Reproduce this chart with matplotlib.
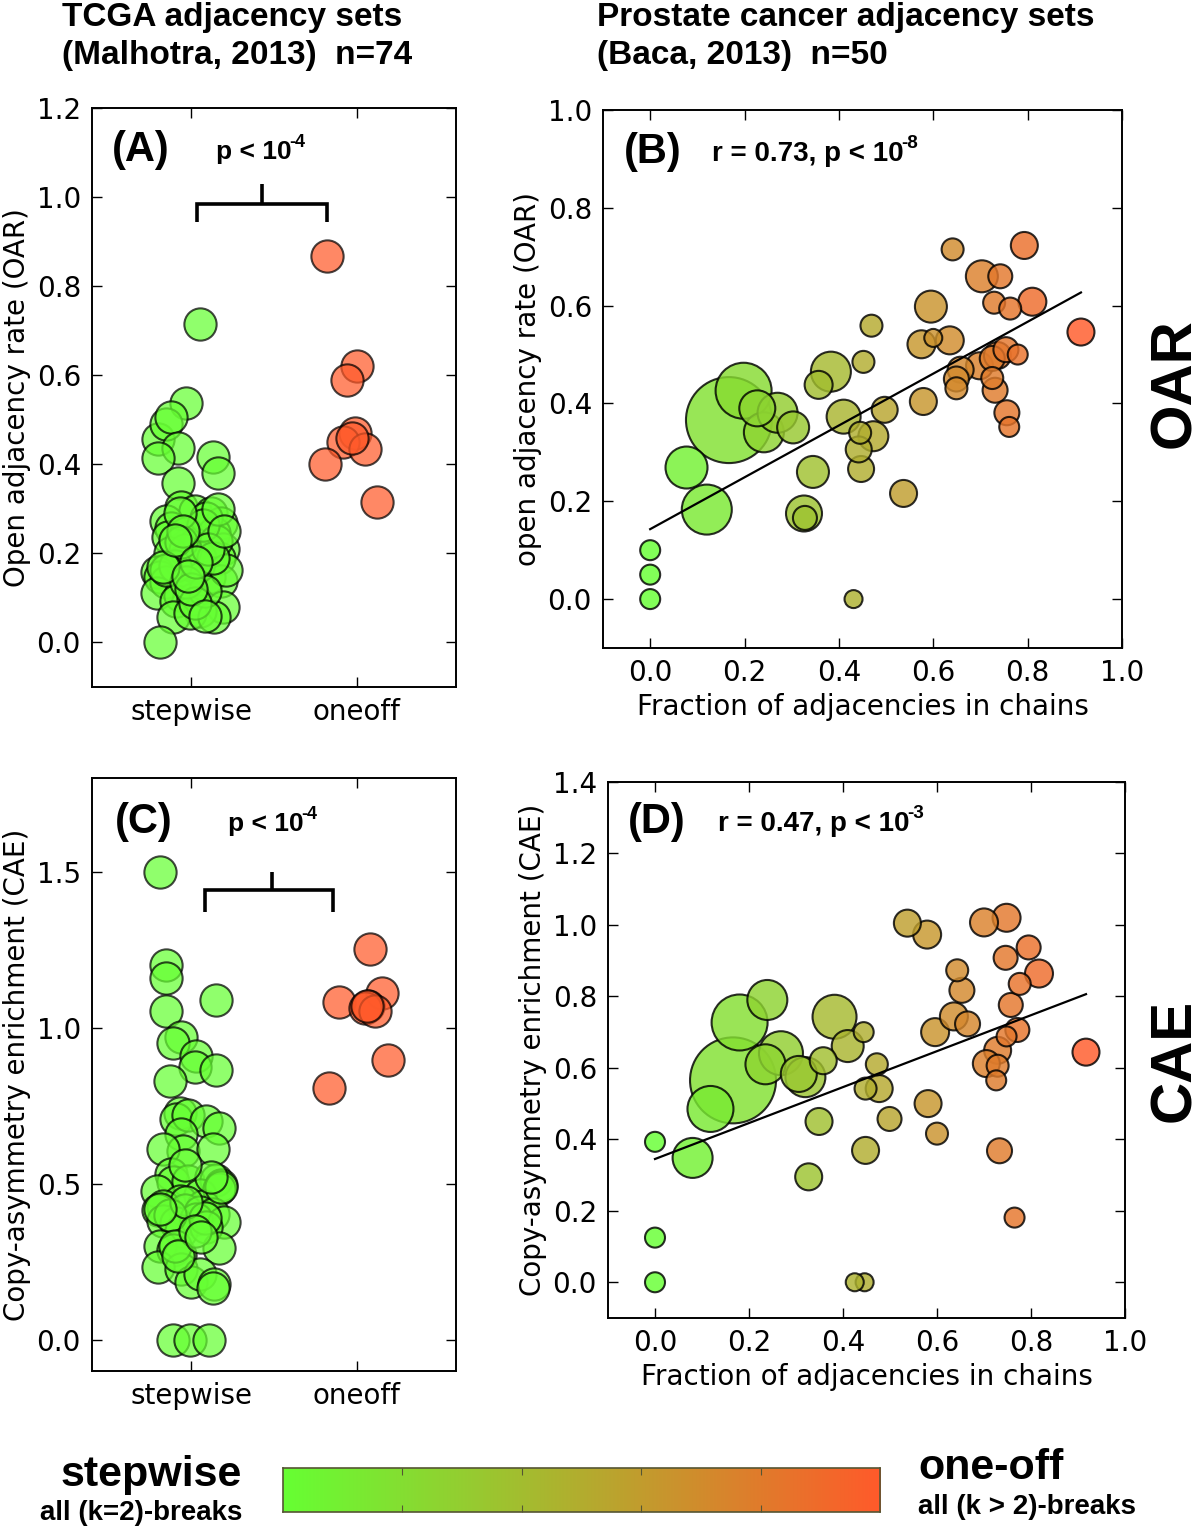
import numpy as np
import matplotlib
matplotlib.use("Agg")
import matplotlib.pyplot as plt
from matplotlib.colors import LinearSegmentedColormap

plt.rcParams['font.family'] = 'DejaVu Sans'

# panel A: open adjacency rate, TCGA (jittered x around group position)
a_step_x = [0.05, -0.03, -0.20, -0.15, -0.12, -0.08, -0.20, 0.13, 0.16, -0.08,
            -0.06, 0.02, 0.12, 0.18, -0.15, -0.12, -0.14, -0.03, 0.14, 0.02,
            -0.13, 0.19, 0.17, 0.05, -0.06, -0.21, -0.19, -0.15, 0.11, 0.18,
            -0.01, -0.21, -0.07, -0.09, 0.01, 0.19, 0.05, -0.11, -0.01, 0.14,
            -0.19, 0.09, 0.15, 0.04, -0.04, -0.10, 0.21, 0.08, -0.15, -0.03,
            0.07, -0.07, 0.02, 0.13, -0.06, 0.10, -0.17, 0.00, 0.16, -0.05,
            0.08, 0.20, -0.10, 0.03, -0.02]
a_step_y = [0.714, 0.538, 0.457, 0.490, 0.506, 0.437, 0.414, 0.417, 0.380, 0.357,
            0.304, 0.295, 0.290, 0.268, 0.272, 0.258, 0.237, 0.245, 0.245, 0.222,
            0.200, 0.210, 0.190, 0.190, 0.180, 0.158, 0.148, 0.135, 0.148, 0.139,
            0.144, 0.112, 0.107, 0.094, 0.098, 0.080, 0.070, 0.057, 0.066, 0.057,
            0.000, 0.280, 0.227, 0.171, 0.208, 0.171, 0.162, 0.116, 0.162, 0.135,
            0.263, 0.290, 0.089, 0.190, 0.226, 0.210, 0.170, 0.120, 0.300, 0.250,
            0.060, 0.250, 0.230, 0.180, 0.150]
a_one_x = [0.82, 1.00, 0.94, 0.99, 0.92, 1.05, 0.81, 1.12, 0.97]
a_one_y = [0.868, 0.620, 0.590, 0.470, 0.450, 0.435, 0.400, 0.315, 0.460]

# panel C: copy-asymmetry enrichment, TCGA
c_step_x = [-0.19, -0.15, -0.15, -0.15, 0.15, -0.06, -0.11, 0.03, 0.02, 0.15,
            -0.13, -0.07, -0.09, -0.02, 0.09, 0.17, -0.06, -0.05, -0.17, 0.13,
            -0.12, -0.11, -0.02, 0.15, 0.18, -0.21, 0.05, 0.17, -0.07, -0.17,
            0.07, -0.20, -0.04, 0.05, 0.13, -0.17, -0.09, 0.03, 0.20, -0.06,
            0.09, -0.19, -0.11, -0.07, 0.17, -0.20, -0.06, 0.00, 0.05, 0.14,
            0.13, -0.11, -0.01, 0.11, -0.13, 0.08, -0.03, 0.18, -0.10, 0.02,
            -0.19, 0.12, -0.08, 0.06, -0.04]
c_step_y = [1.500, 1.200, 1.160, 1.055, 1.090, 0.970, 0.950, 0.910, 0.875, 0.866,
            0.830, 0.726, 0.709, 0.720, 0.700, 0.680, 0.659, 0.605, 0.611, 0.611,
            0.530, 0.506, 0.510, 0.513, 0.496, 0.476, 0.463, 0.483, 0.445, 0.429,
            0.429, 0.415, 0.415, 0.408, 0.402, 0.381, 0.375, 0.388, 0.377, 0.348,
            0.361, 0.300, 0.287, 0.273, 0.293, 0.233, 0.226, 0.185, 0.212, 0.179,
            0.165, 0.000, 0.000, 0.000, 0.400, 0.390, 0.440, 0.490, 0.300, 0.350,
            0.420, 0.520, 0.270, 0.330, 0.560]
c_one_x = [1.08, 1.15, 0.89, 1.07, 1.05, 1.11, 1.19, 0.83, 1.06]
c_one_y = [1.251, 1.112, 1.081, 1.071, 1.064, 1.055, 0.895, 0.807, 1.070]

# panel B: prostate, fraction in chains vs OAR, bubble radius (px)
b_x = [0.000, 0.000, 0.000, 0.077, 0.120, 0.167, 0.198, 0.241, 0.227, 0.270,
       0.303, 0.326, 0.328, 0.345, 0.357, 0.383, 0.410, 0.431, 0.452, 0.469,
       0.442, 0.445, 0.447, 0.473, 0.497, 0.537, 0.579, 0.575, 0.595, 0.600,
       0.635, 0.641, 0.658, 0.649, 0.649, 0.698, 0.703, 0.742, 0.729, 0.763,
       0.810, 0.793, 0.736, 0.725, 0.754, 0.779, 0.725, 0.731, 0.756, 0.761,
       0.913]
b_y = [0.000, 0.050, 0.100, 0.269, 0.183, 0.366, 0.426, 0.341, 0.390, 0.381,
       0.351, 0.175, 0.166, 0.260, 0.438, 0.465, 0.373, 0.000, 0.485, 0.559,
       0.306, 0.340, 0.266, 0.333, 0.387, 0.216, 0.404, 0.521, 0.598, 0.534,
       0.529, 0.715, 0.469, 0.450, 0.431, 0.477, 0.660, 0.660, 0.606, 0.594,
       0.608, 0.723, 0.498, 0.492, 0.510, 0.500, 0.452, 0.427, 0.381, 0.352,
       0.546]
b_r = [10, 10, 10, 21, 25, 43, 28, 20, 18, 20,
       16, 18, 12, 16, 14, 20, 17, 9, 11, 11,
       13, 11, 13, 15, 13, 13.5, 13.5, 14, 16, 9,
       14, 11, 13, 12.5, 11, 13.5, 16, 12, 11, 11,
       14, 13.5, 13.5, 12.5, 12.5, 10, 11, 12.5, 12.5, 10,
       13.5]
b_fit = (0.143, 0.530)  # intercept, slope

# panel D: prostate, fraction in chains vs CAE
d_x = [0.000, 0.000, 0.000, 0.080, 0.118, 0.166, 0.180, 0.239, 0.235, 0.268,
       0.306, 0.320, 0.327, 0.349, 0.358, 0.382, 0.410, 0.425, 0.446, 0.444,
       0.448, 0.448, 0.472, 0.477, 0.499, 0.537, 0.579, 0.581, 0.600, 0.596,
       0.643, 0.653, 0.636, 0.665, 0.700, 0.748, 0.746, 0.795, 0.817, 0.776,
       0.757, 0.771, 0.705, 0.729, 0.729, 0.726, 0.748, 0.733, 0.765, 0.917]
d_y = [0.000, 0.125, 0.393, 0.348, 0.485, 0.565, 0.727, 0.790, 0.610, 0.641,
       0.583, 0.574, 0.295, 0.450, 0.620, 0.743, 0.661, 0.000, 0.000, 0.700,
       0.369, 0.542, 0.610, 0.542, 0.457, 1.005, 0.973, 0.500, 0.416, 0.700,
       0.873, 0.817, 0.744, 0.723, 1.007, 1.020, 0.908, 0.937, 0.864, 0.835,
       0.776, 0.706, 0.612, 0.649, 0.606, 0.565, 0.688, 0.368, 0.181, 0.644]
d_r = [10, 10, 10, 20, 23, 43, 28, 20, 20, 22,
       18, 20, 13.5, 13.5, 13.5, 22, 16, 9, 9, 10,
       13.5, 11, 11, 13.5, 12, 13.5, 14, 13.5, 11, 14,
       11, 12.5, 14, 12.5, 14, 14, 12, 12, 14, 11,
       12, 12, 13.5, 13.5, 11, 10, 10, 12.5, 10, 13.5]
d_fit = (0.345, 0.503)

groups = ['stepwise', 'oneoff']

cmap = LinearSegmentedColormap.from_list('sw', ['#66ff33', '#ff5a2a'])

W, H = 1200, 1529
fig = plt.figure(figsize=(W / 100, H / 100), dpi=100)
BOLD = dict(fontweight='bold', family='Liberation Sans')


def px_axes(l, t, r, b):
    return fig.add_axes([l / W, 1 - b / H, (r - l) / W, (b - t) / H])


def style(ax):
    for s in ax.spines.values():
        s.set_linewidth(1.4)
    ax.tick_params(direction='in', length=7, width=1, top=True, right=True,
                   labelsize=20, pad=8)


def stat_text(ax, x, y, base, sup, size):
    t = ax.text(x, y, base, transform=ax.transAxes, fontsize=size,
                ha='left', va='center', **BOLD)
    ax.annotate(sup, xy=(1, 0.9), xycoords=t, xytext=(-1.5, 0),
                textcoords='offset points', fontsize=size * 0.68,
                ha='left', va='center', **BOLD)


def strip_panel(ax, sx, sy, ox, oy, ylim, yticks, ylabel, letter, br):
    ax.scatter(sx, sy, s=540, color=cmap(0.0), alpha=0.72,
               edgecolors='black', linewidths=1.5, zorder=3)
    ax.scatter(ox, oy, s=540, color=cmap(1.0), alpha=0.72,
               edgecolors='black', linewidths=1.5, zorder=3)
    ax.set_xlim(-0.6, 1.6)
    ax.set_ylim(*ylim)
    ax.set_xticks([0, 1])
    ax.set_xticklabels(groups)
    ax.set_yticks(yticks)
    ax.set_ylabel(ylabel, fontsize=20)
    style(ax)
    l, r, lo, bar, c, top = br
    ax.plot([l, l, r, r], [lo, bar, bar, lo], color='black', lw=2.6,
            solid_joinstyle='miter', solid_capstyle='butt', clip_on=False)
    ax.plot([c, c], [bar, top], color='black', lw=2.6,
            solid_capstyle='butt', clip_on=False)
    ax.text(letter[1], letter[2], letter[0], transform=ax.transAxes,
            fontsize=30, ha='left', va='center', **BOLD)
    stat_text(ax, letter[3], letter[2] - 0.003, 'p < 10', '-4', 19)


def bubble_panel(ax, x, y, r, fit, ylim, yticks, ylabel, letter, stat):
    x = np.array(x)
    y = np.array(y)
    r = np.array(r, dtype=float)
    order = np.argsort(-r)
    sizes = (2 * r * 0.72) ** 2
    cols = cmap(x / x.max())
    ax.scatter(x[order], y[order], s=sizes[order], c=cols[order], alpha=0.82,
               edgecolors='black', linewidths=1.5, zorder=3)
    xx = np.array([0, x.max()])
    ax.plot(xx, fit[0] + fit[1] * xx, color='black', lw=1.6, zorder=4)
    ax.set_xlim(-0.1, 1.0)
    ax.set_ylim(*ylim)
    ax.set_xticks(np.arange(0, 1.01, 0.2))
    ax.set_yticks(yticks)
    ax.set_ylabel(ylabel, fontsize=20)
    ax.set_xlabel('Fraction of adjacencies in chains', fontsize=20)
    style(ax)
    ax.text(letter[1], letter[2], letter[0], transform=ax.transAxes,
            fontsize=30, ha='left', va='center', **BOLD)
    stat_text(ax, letter[3], letter[2] - 0.003, stat[0], stat[1], 20)


axA = px_axes(92, 108, 456, 687)
strip_panel(axA, a_step_x, a_step_y, a_one_x, a_one_y, (-0.1, 1.2),
            np.arange(0, 1.21, 0.2), 'Open adjacency rate (OAR)',
            ('(A)', 0.055, 0.927, 0.34),
            (0.036, 0.818, 0.944, 0.984, 0.43, 1.029))

axC = px_axes(92, 778, 456, 1371)
strip_panel(axC, c_step_x, c_step_y, c_one_x, c_one_y, (-0.1, 1.8),
            [0.0, 0.5, 1.0, 1.5], 'Copy-asymmetry enrichment (CAE)',
            ('(C)', 0.063, 0.926, 0.374),
            (0.085, 0.855, 1.372, 1.442, 0.485, 1.5))

axB = px_axes(603, 110, 1122, 648)
bubble_panel(axB, b_x, b_y, b_r, b_fit, (-0.1, 1.0), np.arange(0, 1.01, 0.2),
             'open adjacency rate (OAR)', ('(B)', 0.04, 0.922, 0.21),
             ('r = 0.73, p < 10', '-8'))

axD = px_axes(608, 782, 1125, 1318)
bubble_panel(axD, d_x, d_y, d_r, d_fit, (-0.1, 1.4), np.arange(0, 1.41, 0.2),
             'Copy-asymmetry enrichment (CAE)', ('(D)', 0.039, 0.925, 0.213),
             ('r = 0.47, p < 10', '-3'))

# column headers
fig.text(62 / W, 1 - 2 / H, 'TCGA adjacency sets\n(Malhotra, 2013)  n=74',
         fontsize=24, ha='left', va='top', linespacing=1.3, **BOLD)
fig.text(597 / W, 1 - 2 / H, 'Prostate cancer adjacency sets\n(Baca, 2013)  n=50',
         fontsize=24, ha='left', va='top', linespacing=1.3, **BOLD)

# row labels
fig.text(1175 / W, 1 - 383 / H, 'OAR', rotation=90, fontsize=42,
         ha='center', va='center', **BOLD)
fig.text(1175 / W, 1 - 1060 / H, 'CAE', rotation=90, fontsize=42,
         ha='center', va='center', **BOLD)

# colour key
cax = px_axes(283, 1468, 880, 1512)
cax.imshow(np.linspace(0, 1, 256)[None, :], cmap=cmap, aspect='auto',
           extent=[0, 1, 0, 1])
cax.set_xticks([0.2, 0.4, 0.6, 0.8])
cax.set_yticks([])
cax.tick_params(direction='in', length=5, width=0.8, top=True, bottom=True,
                labelbottom=False, color='#555533')
for s in cax.spines.values():
    s.set_linewidth(1.2)
    s.set_color('#555533')

fig.text(242 / W, 1 - 1475 / H, 'stepwise', fontsize=31,
         ha='right', va='center', **BOLD)
fig.text(242 / W, 1 - 1513 / H, 'all (k=2)-breaks', fontsize=20,
         ha='right', va='center', **BOLD)
fig.text(918 / W, 1 - 1468 / H, 'one-off', fontsize=31,
         ha='left', va='center', **BOLD)
fig.text(918 / W, 1 - 1507 / H, 'all (k > 2)-breaks', fontsize=20,
         ha='left', va='center', **BOLD)

fig.savefig('out.png', dpi=100)
